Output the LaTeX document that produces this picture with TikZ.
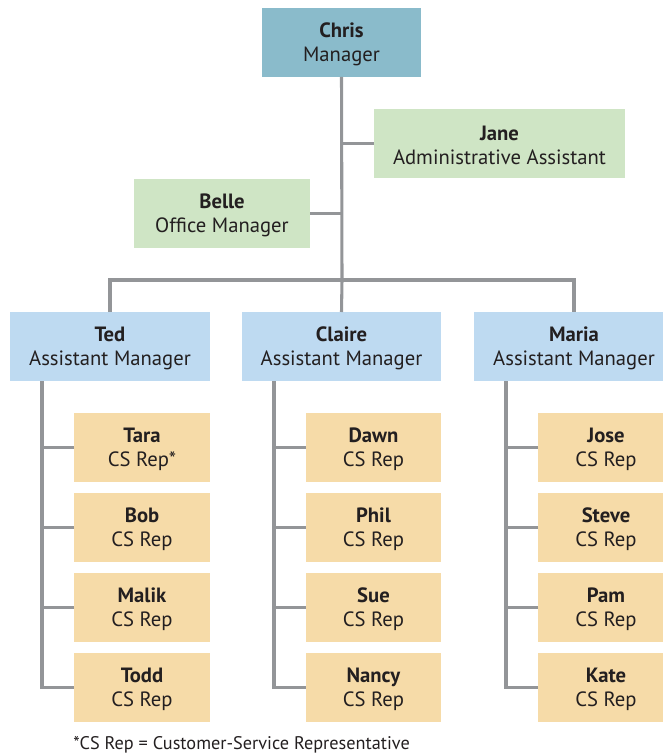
\documentclass[tikz,border=0pt]{standalone}
\usepackage{fontspec}
\setmainfont{PT Sans}
\definecolor{topblue}{HTML}{8ABBCB}
\definecolor{staffgreen}{HTML}{CFE5C5}
\definecolor{asstblue}{HTML}{BEDAF1}
\definecolor{repsand}{HTML}{F6DBA8}
\definecolor{wire}{HTML}{939598}
\definecolor{ink}{HTML}{231F20}
\begin{document}
\begin{tikzpicture}[x=0.75pt,y=-0.75pt,
  card/.style={inner sep=0pt,align=center,text=ink,font=\fontsize{15.5}{18}\selectfont},
  link/.style={draw=wire,line width=2.3pt,line join=miter}]
\useasboundingbox (0,0) rectangle (662,755);
\newcommand\cardbox[7]{% name, x0, y0, x1, y1, colour, text
  \fill[#6] (#2,#3) rectangle (#4,#5);
  \node[card,anchor=center,yshift=-1.5pt] (#1) at ({(#2+#4)/2},{(#3+#5)/2}) {#7};
  \coordinate (#1-n) at ({(#2+#4)/2},#3);
  \coordinate (#1-s) at ({(#2+#4)/2},#5);
  \coordinate (#1-w) at (#2,{(#3+#5)/2});
  \coordinate (#1-e) at (#4,{(#3+#5)/2});
}
% top of the chart
\cardbox{chris}{262}{8}{421}{77}{topblue}{\textbf{Chris}\\Manager}
\cardbox{jane}{374}{109}{625}{178}{staffgreen}{\textbf{Jane}\\Administrative Assistant}
\cardbox{belle}{134}{179}{310}{248}{staffgreen}{\textbf{Belle}\\Office Manager}
% assistant managers
\cardbox{ted}{10}{312}{210}{381}{asstblue}{\textbf{Ted}\\Assistant Manager}
\cardbox{claire}{242}{312}{441}{381}{asstblue}{\textbf{Claire}\\Assistant Manager}
\cardbox{maria}{474}{312}{674}{381}{asstblue}{\textbf{Maria}\\Assistant Manager}
% service representatives
\cardbox{tara}{74}{413}{210}{482}{repsand}{\textbf{Tara}\\CS Rep*}
\cardbox{bob}{74}{493}{210}{562}{repsand}{\textbf{Bob}\\CS Rep}
\cardbox{malik}{74}{573}{210}{642}{repsand}{\textbf{Malik}\\CS Rep}
\cardbox{todd}{74}{653}{210}{722}{repsand}{\textbf{Todd}\\CS Rep}
\cardbox{dawn}{306}{413}{441}{482}{repsand}{\textbf{Dawn}\\CS Rep}
\cardbox{phil}{306}{493}{441}{562}{repsand}{\textbf{Phil}\\CS Rep}
\cardbox{sue}{306}{573}{441}{642}{repsand}{\textbf{Sue}\\CS Rep}
\cardbox{nancy}{306}{653}{441}{722}{repsand}{\textbf{Nancy}\\CS Rep}
\cardbox{jose}{538}{413}{674}{482}{repsand}{\textbf{Jose}\\CS Rep}
\cardbox{steve}{538}{493}{674}{562}{repsand}{\textbf{Steve}\\CS Rep}
\cardbox{pam}{538}{573}{674}{642}{repsand}{\textbf{Pam}\\CS Rep}
\cardbox{kate}{538}{653}{674}{722}{repsand}{\textbf{Kate}\\CS Rep}
% junction points of the wiring
\coordinate (bus) at (342,280);
\coordinate (tedspine) at (42,381);
\coordinate (clairespine) at (274,381);
\coordinate (mariaspine) at (506,381);
% connectors
\draw[link] (chris-s) -- (bus);
\draw[link] (jane-w) -- (jane-w -| chris-s);
\draw[link] (belle-e) -- (belle-e -| chris-s);
\draw[link] (ted-n) |- (bus) -| (maria-n);
\draw[link] (bus) -- (claire-n);
\draw[link] (tedspine) |- (todd-w);
\draw[link] (tara-w) -- (tara-w -| tedspine);
\draw[link] (bob-w) -- (bob-w -| tedspine);
\draw[link] (malik-w) -- (malik-w -| tedspine);
\draw[link] (clairespine) |- (nancy-w);
\draw[link] (dawn-w) -- (dawn-w -| clairespine);
\draw[link] (phil-w) -- (phil-w -| clairespine);
\draw[link] (sue-w) -- (sue-w -| clairespine);
\draw[link] (mariaspine) |- (kate-w);
\draw[link] (jose-w) -- (jose-w -| mariaspine);
\draw[link] (steve-w) -- (steve-w -| mariaspine);
\draw[link] (pam-w) -- (pam-w -| mariaspine);
% footnote
\node[card,anchor=west,font=\fontsize{13.7}{16}\selectfont] (note) at (73,745) {*CS Rep = Customer-Service Representative};
\end{tikzpicture}
\end{document}
